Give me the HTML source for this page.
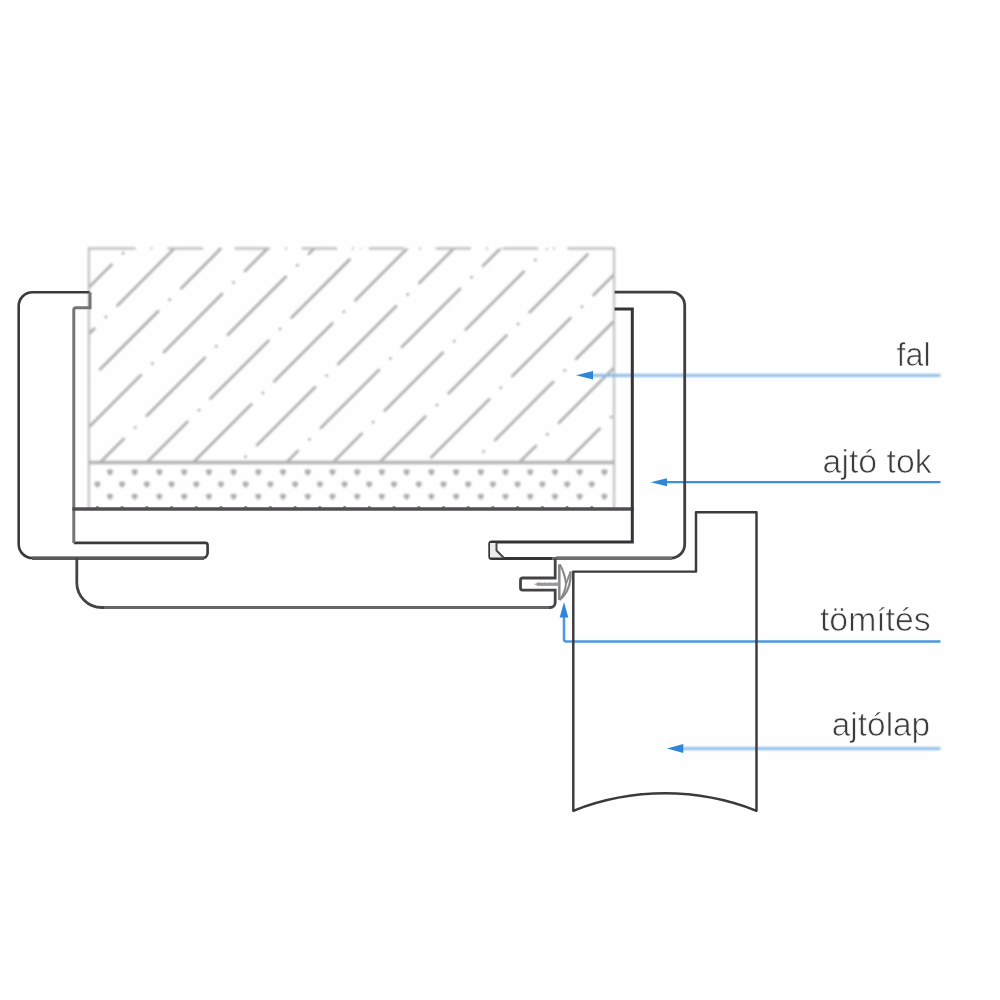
<!DOCTYPE html>
<html><head><meta charset="utf-8">
<style>
html,body{margin:0;padding:0;background:#fff;}
body{width:1000px;height:1000px;overflow:hidden;}
svg{display:block;}
text{font-family:"Liberation Sans",sans-serif;font-size:34px;fill:#3c3c3c;stroke:#fefefe;stroke-width:0.7px;paint-order:fill stroke;}
#soft{filter:blur(0.8px);}
#crisp{filter:blur(0.4px);}
#txt{filter:blur(0.45px);}
</style></head><body>
<svg width="1000" height="1000" viewBox="0 0 1000 1000">
<defs>
<clipPath id="wallclip"><rect x="89" y="248.4" width="525" height="214"/></clipPath>
<path id="dt" d="M-3.1,-0.8 Q-3.1,-3.1 0,-3.1 Q3.1,-3.1 3.1,-0.8 Q2.6,1.6 0,3.3 Q-2.6,1.6 -3.1,-0.8 Z"/>
</defs>
<rect width="1000" height="1000" fill="#fefefe"/>
<g id="soft">
<!-- wall -->
<g clip-path="url(#wallclip)" stroke="#a9a9a9" stroke-width="2.5" stroke-linecap="round" fill="none" stroke-dasharray="82.15 16.05 0.40 16.05"><line x1="-10.30" y1="340.02" x2="700.00" y2="-370.28"/><line x1="-27.55" y1="403.84" x2="700.00" y2="-323.71"/><line x1="-44.80" y1="467.66" x2="700.00" y2="-277.14"/><line x1="-62.05" y1="531.48" x2="700.00" y2="-230.57"/><line x1="-79.30" y1="595.30" x2="700.00" y2="-184.00"/><line x1="-15.48" y1="578.05" x2="700.00" y2="-137.43"/><line x1="-32.73" y1="641.87" x2="700.00" y2="-90.86"/><line x1="-49.98" y1="705.69" x2="700.00" y2="-44.29"/><line x1="-67.23" y1="769.51" x2="700.00" y2="2.28"/><line x1="-3.41" y1="752.26" x2="700.00" y2="48.85"/><line x1="-20.66" y1="816.08" x2="700.00" y2="95.42"/><line x1="-37.91" y1="879.90" x2="700.00" y2="141.99"/><line x1="-55.16" y1="943.72" x2="700.00" y2="188.56"/><line x1="-72.41" y1="1007.54" x2="700.00" y2="235.13"/><line x1="-8.59" y1="990.29" x2="700.00" y2="281.70"/><line x1="-25.84" y1="1054.11" x2="700.00" y2="328.27"/><line x1="-43.09" y1="1117.93" x2="700.00" y2="374.84"/><line x1="-60.34" y1="1181.75" x2="700.00" y2="421.41"/></g>
<g stroke="#b4b4b4" stroke-width="2" fill="none"><line x1="88.6" y1="248.4" x2="135.6" y2="248.4"/><line x1="167.8" y1="248.4" x2="203.0" y2="248.4"/><line x1="234.8" y1="248.4" x2="270.0" y2="248.4"/><line x1="301.8" y1="248.4" x2="337.0" y2="248.4"/><line x1="368.8" y1="248.4" x2="404.0" y2="248.4"/><line x1="435.8" y1="248.4" x2="471.0" y2="248.4"/><line x1="502.8" y1="248.4" x2="538.0" y2="248.4"/><line x1="567.5" y1="248.4" x2="614.0" y2="248.4"/><line x1="150.6" y1="248.4" x2="152.4" y2="248.4"/><line x1="218.0" y1="248.4" x2="219.8" y2="248.4"/><line x1="285.0" y1="248.4" x2="286.8" y2="248.4"/><line x1="352.0" y1="248.4" x2="353.8" y2="248.4"/><line x1="419.0" y1="248.4" x2="420.8" y2="248.4"/><line x1="486.0" y1="248.4" x2="487.8" y2="248.4"/><line x1="553.0" y1="248.4" x2="554.8" y2="248.4"/></g>
<g stroke="#bcbcbc" stroke-width="2" fill="none">
<line x1="88.9" y1="247.4" x2="88.9" y2="509"/>
<line x1="614.1" y1="247.4" x2="614.1" y2="509"/>
<line x1="88" y1="462.5" x2="615" y2="462.5" stroke-width="3.3" stroke="#b3b3b3"/>
</g>
<g fill="#adadad"><use href="#dt" x="110.0" y="472.4"/><use href="#dt" x="134.7" y="472.4"/><use href="#dt" x="159.4" y="472.4"/><use href="#dt" x="184.2" y="472.4"/><use href="#dt" x="208.9" y="472.4"/><use href="#dt" x="233.6" y="472.4"/><use href="#dt" x="258.3" y="472.4"/><use href="#dt" x="283.0" y="472.4"/><use href="#dt" x="307.8" y="472.4"/><use href="#dt" x="332.5" y="472.4"/><use href="#dt" x="357.2" y="472.4"/><use href="#dt" x="381.9" y="472.4"/><use href="#dt" x="406.6" y="472.4"/><use href="#dt" x="431.4" y="472.4"/><use href="#dt" x="456.1" y="472.4"/><use href="#dt" x="480.8" y="472.4"/><use href="#dt" x="505.5" y="472.4"/><use href="#dt" x="530.2" y="472.4"/><use href="#dt" x="555.0" y="472.4"/><use href="#dt" x="579.7" y="472.4"/><use href="#dt" x="604.4" y="472.4"/><use href="#dt" x="97.4" y="484.5"/><use href="#dt" x="122.1" y="484.5"/><use href="#dt" x="146.8" y="484.5"/><use href="#dt" x="171.6" y="484.5"/><use href="#dt" x="196.3" y="484.5"/><use href="#dt" x="221.0" y="484.5"/><use href="#dt" x="245.7" y="484.5"/><use href="#dt" x="270.4" y="484.5"/><use href="#dt" x="295.2" y="484.5"/><use href="#dt" x="319.9" y="484.5"/><use href="#dt" x="344.6" y="484.5"/><use href="#dt" x="369.3" y="484.5"/><use href="#dt" x="394.0" y="484.5"/><use href="#dt" x="418.8" y="484.5"/><use href="#dt" x="443.5" y="484.5"/><use href="#dt" x="468.2" y="484.5"/><use href="#dt" x="492.9" y="484.5"/><use href="#dt" x="517.6" y="484.5"/><use href="#dt" x="542.4" y="484.5"/><use href="#dt" x="567.1" y="484.5"/><use href="#dt" x="591.8" y="484.5"/><use href="#dt" x="110.0" y="496.8"/><use href="#dt" x="134.7" y="496.8"/><use href="#dt" x="159.4" y="496.8"/><use href="#dt" x="184.2" y="496.8"/><use href="#dt" x="208.9" y="496.8"/><use href="#dt" x="233.6" y="496.8"/><use href="#dt" x="258.3" y="496.8"/><use href="#dt" x="283.0" y="496.8"/><use href="#dt" x="307.8" y="496.8"/><use href="#dt" x="332.5" y="496.8"/><use href="#dt" x="357.2" y="496.8"/><use href="#dt" x="381.9" y="496.8"/><use href="#dt" x="406.6" y="496.8"/><use href="#dt" x="431.4" y="496.8"/><use href="#dt" x="456.1" y="496.8"/><use href="#dt" x="480.8" y="496.8"/><use href="#dt" x="505.5" y="496.8"/><use href="#dt" x="530.2" y="496.8"/><use href="#dt" x="555.0" y="496.8"/><use href="#dt" x="579.7" y="496.8"/><use href="#dt" x="604.4" y="496.8"/></g>

<!-- blue leader lines (soft) -->
<g fill="none">
<line x1="590" y1="375.3" x2="940.5" y2="375.3" stroke="#85b8e8" stroke-width="2.8"/>
<line x1="680" y1="748.6" x2="940.5" y2="748.6" stroke="#85b8e8" stroke-width="2.8"/>
</g>
</g>
<g id="crisp">
<g fill="none">
<line x1="664" y1="482.2" x2="940.5" y2="482.2" stroke="#3f8fdc" stroke-width="2.3"/>
<path d="M564,615 V639.3 A2.2,2.2 0 0 0 566.2,641.5 H940.5" stroke="#4d99e0" stroke-width="2.5"/>
</g>
<g fill="#2f86d8">
<path d="M576,375.3 L593,371.1 V379.5 Z"/>
<path d="M650.6,482.2 L667,478.2 V486.2 Z"/>
<path d="M564,602 L568.3,617.5 H559.7 Z"/>
<path d="M667,748.6 L683.3,744.1 V753.1 Z"/>
</g>

<!-- left casing -->
<path d="M18.7,306 A13.8,13.8 0 0 1 32.5,292.2 H89.6 M18.7,305.5 V544.2 A13.8,13.8 0 0 0 32.5,558 H202.6 A5,5 0 0 0 207.6,553 V545 A2.2,2.2 0 0 0 205.4,542.9 H73.8" fill="none" stroke="#3b393c" stroke-width="2.6"/>
<path d="M90,292.2 V307.8 H76 A2.2,2.2 0 0 0 73.8,310 V543" fill="none" stroke="#757575" stroke-width="3"/>
<!-- casing bottom (gray overlay of y=558 ) -->
<line x1="32" y1="558.2" x2="204" y2="558.2" stroke="#5a585b" stroke-width="3.4"/>

<!-- horizontal dark line under wall -->
<line x1="72.4" y1="509" x2="633.6" y2="509" stroke="#504e51" stroke-width="3.5"/>
<g fill="#555" opacity="0.8"><circle cx="97.4" cy="507.7" r="1.7"/><circle cx="122.1" cy="507.7" r="1.7"/><circle cx="146.8" cy="507.7" r="1.7"/><circle cx="171.6" cy="507.7" r="1.7"/><circle cx="196.3" cy="507.7" r="1.7"/><circle cx="221.0" cy="507.7" r="1.7"/><circle cx="245.7" cy="507.7" r="1.7"/><circle cx="270.4" cy="507.7" r="1.7"/><circle cx="295.2" cy="507.7" r="1.7"/><circle cx="319.9" cy="507.7" r="1.7"/><circle cx="344.6" cy="507.7" r="1.7"/><circle cx="369.3" cy="507.7" r="1.7"/><circle cx="394.0" cy="507.7" r="1.7"/><circle cx="418.8" cy="507.7" r="1.7"/><circle cx="443.5" cy="507.7" r="1.7"/><circle cx="468.2" cy="507.7" r="1.7"/><circle cx="492.9" cy="507.7" r="1.7"/><circle cx="517.6" cy="507.7" r="1.7"/><circle cx="542.4" cy="507.7" r="1.7"/><circle cx="567.1" cy="507.7" r="1.7"/><circle cx="591.8" cy="507.7" r="1.7"/></g>

<!-- right casing -->
<path d="M614.6,292.2 H671.4 A13.3,13.3 0 0 1 684.7,305.5 V544.2 A13.8,13.8 0 0 1 670.9,558 H556" fill="none" stroke="#403e41" stroke-width="2.8"/>
<path d="M614.6,309 H632.3 V541.9 H491.5 A2,2 0 0 0 489.8,543.9 V556.5 A2,2 0 0 0 491.8,558.5 H552" fill="none" stroke="#353336" stroke-width="3"/>
<path d="M490,543 H496.5 V550.5 L503.5,557.5 H490 Z" fill="#ededed" stroke="none"/>
<path d="M496.5,543 V550.5 L504,558" fill="none" stroke="#4a4a4a" stroke-width="2"/>
<line x1="552" y1="558.5" x2="672" y2="558.5" stroke="#6e6e6e" stroke-width="3"/>

<!-- bottom piece -->
<path d="M76.8,558 V582.5 A25,25 0 0 0 101.8,607.5 H550.2 A5,5 0 0 0 555.2,602.5 V590.2 H522.7 A2.2,2.2 0 0 1 520.5,588 V580.2 A2.2,2.2 0 0 1 522.7,578 H555.2 V558.5" fill="none" stroke="#454346" stroke-width="2.8"/>

<line x1="104" y1="607.5" x2="549" y2="607.5" stroke="#666" stroke-width="3"/>
<!-- gasket -->
<g fill="none" stroke="#888">
<line x1="559.3" y1="564.3" x2="559.3" y2="600" stroke-width="2.5"/>
<line x1="537" y1="584.2" x2="559" y2="584.2" stroke-width="3.4" stroke="#999"/>
<path d="M541,581.6 h3 M546,581.6 h3 M551,581.6 h3 M541,586.8 h3 M546,586.8 h3 M551,586.8 h3" stroke="#fefefe" stroke-width="1.6"/>
<path d="M534,584.2 L538,582.8 V585.6 Z" fill="#999" stroke="none"/>
<path d="M560,564.5 Q565,574 566,584 Q565,593 559.5,600" stroke-width="2"/>
<path d="M570.6,571.5 Q571.5,590 559.5,600" stroke-width="2.2"/>
<path d="M566,584 L570.6,571.5" stroke-width="1.9"/>
</g>

<!-- door leaf -->
<path d="M573.3,810.8 V571.6 H696 V512.2 H756.5 V810.8 A249,249 0 0 0 573.3,810.8 Z" fill="none" stroke="#3b393c" stroke-width="2.45" stroke-linejoin="round"/>
</g>
<g id="txt">
<!-- labels -->
<text x="930.6" y="365.5" text-anchor="end" textLength="34.2" lengthAdjust="spacingAndGlyphs">fal</text>
<text x="931.6" y="473.4" text-anchor="end" textLength="109" lengthAdjust="spacingAndGlyphs">ajtó tok</text>
<text x="930.6" y="631" text-anchor="end" textLength="110.6" lengthAdjust="spacingAndGlyphs">tömítés</text>
<text x="930.2" y="735.9" text-anchor="end" textLength="98.4" lengthAdjust="spacingAndGlyphs">ajtólap</text>
</g>
</svg>
</body></html>
